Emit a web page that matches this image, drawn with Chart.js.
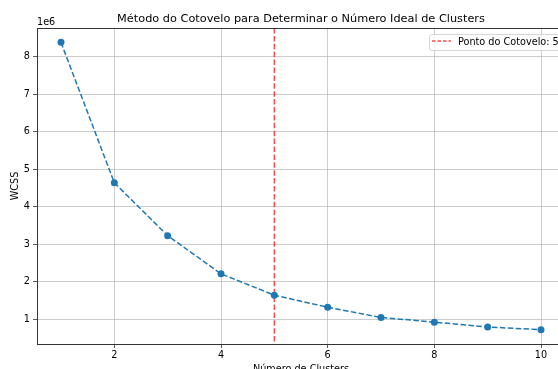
<!DOCTYPE html>
<html>
<head>
<meta charset="utf-8">
<script src="https://cdn.jsdelivr.net/npm/chart.js@4"></script>
<style>
html,body{margin:0;padding:0;background:#fff;overflow:hidden;width:558px;height:369px;}
#wrap{position:relative;width:600px;height:369px;}
</style>
</head>
<body>
<div id="wrap"><canvas id="c" width="600" height="369"></canvas></div>
<script>
const clusters = [1, 2, 3, 4, 5, 6, 7, 8, 9, 10];
const wcss = [8.39, 4.64, 3.23, 2.21, 1.64, 1.32, 1.045, 0.92, 0.79, 0.72]; // x 1e6
const xTicks = [2, 4, 6, 8, 10];
const yTicks = [1, 2, 3, 4, 5, 6, 7, 8];
const elbow = 5;
const titleText = 'Método do Cotovelo para Determinar o Número Ideal de Clusters';
const xLabel = 'Número de Clusters';
const yLabel = 'WCSS';
const legendText = 'Ponto do Cotovelo: ' + elbow;

const FONT = '"DejaVu Sans", sans-serif';

function pad(arr, frac) {
  const mn = Math.min(...arr), mx = Math.max(...arr), r = mx - mn;
  return [mn - r * frac, mx + r * frac];
}
const [xMin, xMax] = pad(clusters, 0.05);
const [yMin, yMax] = pad(wcss, 0.05);

const deco = {
  id: 'deco',
  beforeDatasetsDraw(chart) {
    const ctx = chart.ctx, a = chart.chartArea, xs = chart.scales.x;
    const px = xs.getPixelForValue(elbow);
    ctx.save();
    ctx.strokeStyle = 'rgba(255,0,0,0.7)';
    ctx.lineWidth = 1.5;
    ctx.setLineDash([5.5, 2.4]);
    ctx.beginPath();
    ctx.moveTo(px, a.top);
    ctx.lineTo(px, a.bottom);
    ctx.stroke();
    ctx.restore();
  },
  afterDraw(chart) {
    const ctx = chart.ctx, a = chart.chartArea;
    ctx.save();
    ctx.strokeStyle = '#333';
    ctx.lineWidth = 1;
    ctx.strokeRect(Math.round(a.left) + 0.5, Math.round(a.top) + 0.5, Math.round(a.right - a.left), Math.round(a.bottom - a.top));
    ctx.fillStyle = '#000';
    ctx.font = '11.3px ' + FONT;
    ctx.textAlign = 'center';
    ctx.textBaseline = 'alphabetic';
    ctx.fillText(titleText, (a.left + a.right) / 2, 22);
    ctx.font = '9.7px ' + FONT;
    ctx.fillText(xLabel, (a.left + a.right) / 2, 372);
    ctx.save();
    ctx.translate(18, (a.top + a.bottom) / 2);
    ctx.rotate(-Math.PI / 2);
    ctx.fillText(yLabel, 0, 0);
    ctx.restore();
    ctx.textAlign = 'left';
    ctx.fillText('1e6', a.left, 25);
    const lx = 429, ly = 34, lw = 140, lh = 16;
    ctx.fillStyle = 'rgba(255,255,255,0.8)';
    ctx.strokeStyle = 'rgba(204,204,204,0.8)';
    ctx.lineWidth = 1;
    ctx.beginPath();
    ctx.roundRect(lx + 0.5, ly + 0.5, lw, lh, 2);
    ctx.fill();
    ctx.stroke();
    ctx.strokeStyle = 'rgba(255,0,0,0.7)';
    ctx.lineWidth = 1.5;
    ctx.setLineDash([3.5, 2]);
    ctx.beginPath();
    ctx.moveTo(432, 41);
    ctx.lineTo(451, 41);
    ctx.stroke();
    ctx.setLineDash([]);
    ctx.fillStyle = '#000';
    ctx.textBaseline = 'middle';
    ctx.fillText(legendText, 458, 42);
    ctx.restore();
  }
};

new Chart(document.getElementById('c'), {
  type: 'line',
  data: {
    datasets: [{
      data: clusters.map((c, i) => ({x: c, y: wcss[i]})),
      borderColor: '#1f77b4',
      backgroundColor: '#1f77b4',
      borderWidth: 1.5,
      borderDash: [5.5, 2.4],
      pointRadius: 3.5,
      pointBorderWidth: 0,
      pointBackgroundColor: '#1f77b4',
      fill: false,
      tension: 0
    }]
  },
  options: {
    responsive: false,
    animation: false,
    layout: {padding: {top: 28, right: 35, left: 0, bottom: 0}},
    plugins: {legend: {display: false}, tooltip: {enabled: false}, title: {display: false}},
    scales: {
      x: {
        type: 'linear', min: xMin, max: xMax,
        afterBuildTicks(s) { s.ticks = xTicks.map(v => ({value: v})); },
        afterFit(s) { s.height = 25; },
        grid: {color: 'rgba(176,176,176,0.8)', lineWidth: 0.8, tickColor: '#333', tickLength: 4, drawTicks: true},
        border: {display: false},
        ticks: {color: '#000', font: {family: FONT, size: 9.7}, padding: 2, maxRotation: 0, autoSkip: false}
      },
      y: {
        type: 'linear', min: yMin, max: yMax,
        afterBuildTicks(s) { s.ticks = yTicks.map(v => ({value: v})); },
        afterFit(s) { s.width = 37; },
        grid: {color: 'rgba(176,176,176,0.8)', lineWidth: 0.8, tickColor: '#333', tickLength: 4, drawTicks: true},
        border: {display: false},
        ticks: {color: '#000', font: {family: FONT, size: 9.7}, padding: 3, autoSkip: false}
      }
    }
  },
  plugins: [deco]
});
</script>
</body>
</html>
